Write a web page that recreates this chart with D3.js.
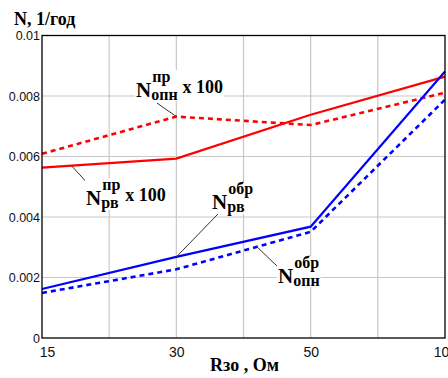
<!DOCTYPE html>
<html><head><meta charset="utf-8">
<script src="https://cdn.jsdelivr.net/npm/d3@7"></script>
<style>html,body{margin:0;padding:0;background:#fff;}svg{display:block;}</style>
</head><body>
<svg id="c" width="448" height="378"></svg>
<script>
const categories = ["15", "30", "50", "100"];
const redSolid   = [0.00563, 0.00593, 0.00738, 0.00864]; // N рв пр x100
const redDashed  = [0.00609, 0.00732, 0.00704, 0.00811]; // N опн пр x100
const blueSolid  = [0.00162, 0.00268, 0.00368, 0.00881]; // N рв обр
const blueDashed = [0.00149, 0.00227, 0.00351, 0.00788]; // N опн обр
const yTicks = [0, 0.002, 0.004, 0.006, 0.008, 0.01];
const yTickLabels = ["0", "0.002", "0.004", "0.006", "0.008", "0.01"];
const yTitle = "N, 1/год";
const xTitle = "Rзо , Ом";

const svg = d3.select("#c");
const L = 42, R = 445, T = 35.5, B = 338;
const x = d3.scalePoint().domain(categories).range([L, R]);
const xi = d3.scaleLinear().domain([0, categories.length - 1]).range([L, R]);
const y = d3.scaleLinear().domain([0, 0.01]).range([B, T]);
const serif = "'Liberation Serif','Times New Roman',serif";
const sans = "'Liberation Sans',Arial,sans-serif";

// grid
const g = svg.append("g");
d3.range(0.5, categories.length - 1, 0.5).forEach(v => {
  g.append("line").attr("x1", xi(v)).attr("x2", xi(v)).attr("y1", T).attr("y2", B)
    .attr("stroke", "#c8c8c8").attr("stroke-width", 1.2);
});
yTicks.slice(1, -1).forEach(v => {
  g.append("line").attr("x1", L).attr("x2", R).attr("y1", y(v)).attr("y2", y(v))
    .attr("stroke", "#c8c8c8").attr("stroke-width", 1.2);
});

// series
const line = d3.line().x((d, i) => x(categories[i])).y(d => y(d));
const series = [
  {v: redDashed, c: "#ff0000", dash: "5,4", w: 2.6},
  {v: redSolid, c: "#ff0000", dash: null, w: 2.2},
  {v: blueDashed, c: "#0000ff", dash: "5,4", w: 2.6},
  {v: blueSolid, c: "#0000ff", dash: null, w: 2.2}
];
series.forEach(s => {
  svg.append("path").attr("d", line(s.v)).attr("fill", "none")
    .attr("stroke", s.c).attr("stroke-width", s.w)
    .attr("stroke-dasharray", s.dash);
});

// frame
svg.append("rect").attr("x", L).attr("y", T).attr("width", R - L).attr("height", B - T)
  .attr("fill", "none").attr("stroke", "#000").attr("stroke-width", 1.3);

// axes
const ya = svg.append("g").attr("transform", `translate(${L},0)`)
  .call(d3.axisLeft(y).tickValues(yTicks).tickSize(0).tickPadding(2)
    .tickFormat((d, i) => yTickLabels[i]));
ya.select(".domain").remove();
ya.selectAll("text").attr("font-family", sans).attr("font-size", 12.5).attr("fill", "#111");

const xa = svg.append("g").attr("transform", `translate(0,${B})`)
  .call(d3.axisBottom(x).tickSize(0).tickPadding(9));
xa.select(".domain").remove();
xa.selectAll("text").attr("font-family", sans).attr("font-size", 14).attr("fill", "#111")
  .attr("dx", (d, i) => i === 0 ? 5 : 0);

svg.append("text").attr("x", 14).attr("y", 25).text(yTitle)
  .attr("font-family", serif).attr("font-weight", "bold").attr("font-size", 18);
svg.append("text").attr("x", 210).attr("y", 371).text(xTitle)
  .attr("font-family", serif).attr("font-weight", "bold").attr("font-size", 18);

// labels
function interp(arr, i, t) {
  return [xi(i + t), y(arr[i] + (arr[i + 1] - arr[i]) * t)];
}
function label(xN, yN, sup, sub, suffix, from, to) {
  svg.append("line").attr("x1", from[0]).attr("y1", from[1]).attr("x2", to[0]).attr("y2", to[1])
    .attr("stroke", "#333").attr("stroke-width", 1);
  const lg = svg.append("g");
  const bg = lg.append("rect").attr("fill", "#fff");
  const n = lg.append("text").attr("x", xN).attr("y", yN).text("N")
    .attr("font-family", serif).attr("font-weight", "bold").attr("font-size", 21);
  const nw = n.node().getComputedTextLength();
  const sp = lg.append("text").attr("x", xN + nw + 1).attr("y", yN - 15).text(sup)
    .attr("font-family", serif).attr("font-weight", "bold").attr("font-size", 16);
  const sb = lg.append("text").attr("x", xN + nw).attr("y", yN + 3).text(sub)
    .attr("font-family", serif).attr("font-weight", "bold").attr("font-size", 16);
  const ww = Math.max(sp.node().getComputedTextLength() + 1, sb.node().getComputedTextLength());
  if (suffix) {
    lg.append("text").attr("x", xN + nw + ww + 5).attr("y", yN - 4).text(suffix)
      .attr("font-family", serif).attr("font-weight", "bold").attr("font-size", 18);
  }
  const bb = lg.node().getBBox();
  bg.attr("x", bb.x - 1).attr("y", bb.y + 2).attr("width", bb.width + 2).attr("height", bb.height - 4);
}
label(136, 97, "пр", "опн", "x 100", [157, 103], interp(redDashed, 1, 0));
label(86, 205, "пр", "рв", "x 100", interp(redSolid, 0, 0.22), [90, 186]);
label(212, 209, "обр", "рв", null, interp(blueSolid, 1, 0), [218, 214]);
label(278, 283, "обр", "опн", null, interp(blueDashed, 1, 0.6), [278, 267]);
</script>
</body></html>
